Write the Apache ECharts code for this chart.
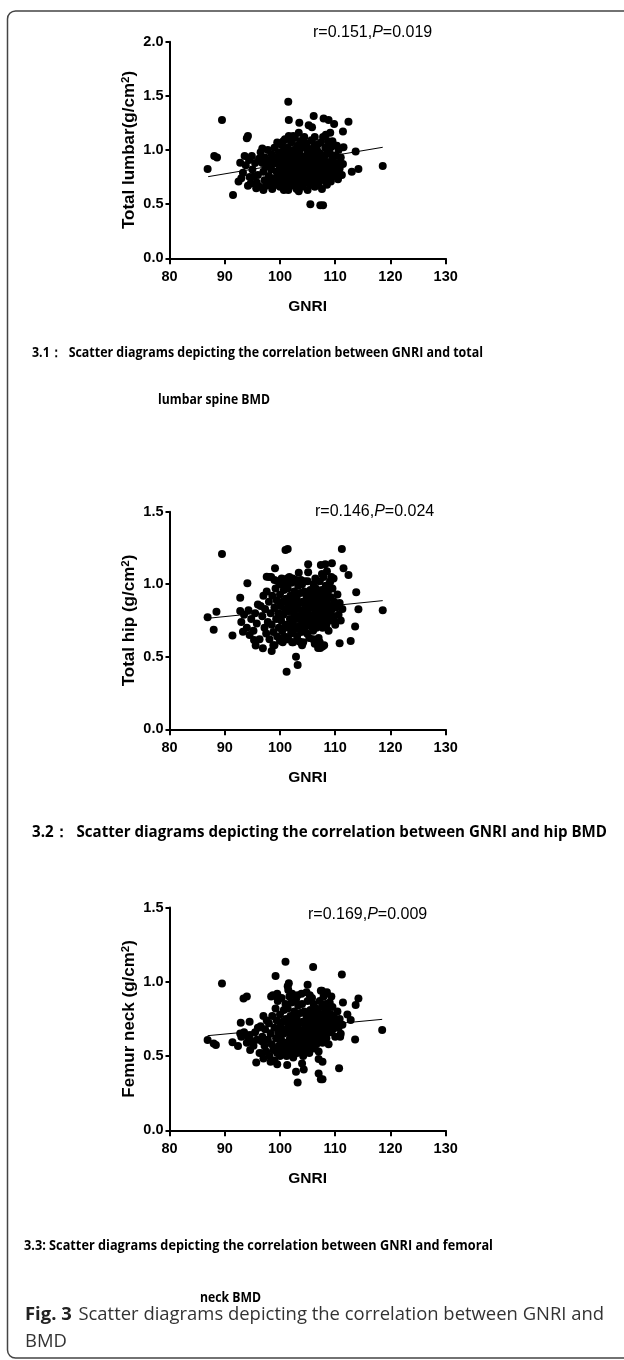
<!DOCTYPE html>
<html>
<head>
<meta charset="utf-8">
<script src="https://cdn.jsdelivr.net/npm/echarts@6/dist/echarts.min.js"></script>
<style>
html,body{margin:0;padding:0;background:#fff;}
#chart{width:624px;height:1360px;}
</style>
</head>
<body>
<div id="chart"></div>
<script>
// ---------------- DATA ----------------
const gnriTicks = [80, 90, 100, 110, 120, 130];
const lumbarTicks = [0, 0.5, 1.0, 1.5, 2.0];
const hipTicks = [0, 0.5, 1.0, 1.5];
const neckTicks = [0, 0.5, 1.0, 1.5];

const xName = 'GNRI';
const lumbarName = 'Total lumbar(g/cm';
const hipName = 'Total hip (g/cm';
const neckName = 'Femur neck (g/cm';

const lumbarStat = ['r=0.151,', 'P', '=0.019'];
const hipStat = ['r=0.146,', 'P', '=0.024'];
const neckStat = ['r=0.169,', 'P', '=0.009'];

const lumbarFit = [[87.0, 0.754], [118.6, 1.025]];
const hipFit = [[86.9, 0.765], [118.6, 0.887]];
const neckFit = [[86.9, 0.637], [118.5, 0.747]];

const lumbarPoints = [
[86.9,0.825],[88.1,0.945],[88.6,0.93],[89.5,1.277],[91.5,0.585],[92.5,0.708],[92.8,0.883],[93.3,0.79],[93.6,0.945],
[94.0,1.108],[94.2,1.13],[94.4,0.908],[94.9,0.945],[94.7,0.69],[95.2,0.754],[95.7,0.646],[97.0,0.63],[96.8,1.015],
[101.5,1.446],[101.6,1.277],[103.5,1.252],[106.1,1.314],[105.2,1.228],[105.8,1.21],[107.9,1.29],[108.8,1.277],
[109.8,1.24],[109.1,1.16],[111.4,1.17],[112.4,1.26],[111.5,1.025],[113.7,0.985],[114.2,0.825],[113.0,0.80],[110.9,0.77],
[118.6,0.852],[101.5,0.63],[103.4,0.62],[105.5,0.50],[107.3,0.49],[107.8,0.49],
[96.5,0.98],[96.8,0.88],[97.0,0.80],[97.2,0.72],[97.3,0.93],[97.5,0.67],[97.6,0.85],[97.8,1.00],[98.0,0.76],[98.1,0.90],
[98.3,0.70],[98.4,0.82],[98.5,0.96],[98.6,0.64],[98.8,0.87],[99.0,0.74],[99.0,1.02],[99.2,0.93],[99.3,0.68],[99.4,0.80],
[99.5,1.07],[99.6,0.88],[99.7,0.72],[99.8,0.98],[100.0,0.84],[100.0,0.66],[100.1,0.77],[100.2,1.05],[100.3,0.92],[100.4,0.70],
[100.5,0.81],[100.6,0.99],[100.7,0.63],[100.8,0.88],[100.9,1.10],[101.0,0.75],[101.0,0.95],[101.1,0.69],[101.2,0.84],[101.3,1.02],
[101.4,0.79],[101.5,0.91],[101.6,1.13],[101.7,0.66],[101.8,0.86],[101.9,0.97],[102.0,0.73],[102.0,1.07],[102.1,0.81],[102.2,0.93],
[102.3,0.68],[102.4,1.00],[102.5,0.77],[102.6,0.88],[102.7,1.11],[102.8,0.71],[102.9,0.95],[103.0,0.83],[103.0,0.64],[103.1,1.04],
[103.2,0.76],[103.3,0.90],[103.4,0.69],[103.5,0.98],[103.6,0.80],[103.7,1.08],[103.8,0.72],[103.9,0.87],[104.0,0.94],[104.0,0.66],
[104.1,1.02],[104.2,0.78],[104.3,0.85],[104.4,1.12],[104.5,0.70],[104.6,0.92],[104.7,0.82],[104.8,1.06],[104.9,0.74],[105.0,0.97],
[105.0,0.63],[105.1,0.88],[105.2,0.79],[105.3,1.01],[105.4,0.68],[105.5,0.93],[105.6,0.84],[105.7,1.09],[105.8,0.75],[105.9,0.99],
[106.0,0.70],[106.0,0.89],[106.1,0.81],[106.2,1.04],[106.3,0.66],[106.4,0.94],[106.5,0.77],[106.6,0.86],[106.7,1.00],[106.8,0.72],
[106.9,0.91],[107.0,0.68],[107.1,0.83],[107.2,0.97],[107.3,0.76],[107.4,1.07],[107.5,0.88],[107.6,0.64],[107.7,0.80],[107.8,1.12],
[107.9,0.93],[108.0,0.72],[108.1,0.85],[108.2,1.02],[108.3,0.78],[108.4,0.96],[108.5,0.68],[108.6,0.89],[108.7,1.08],[108.8,0.82],
[108.9,0.75],[109.0,0.98],[109.1,0.87],[109.2,0.71],[109.3,1.03],[109.4,0.80],[109.5,0.92],[109.6,0.76],[109.8,0.85],[110.0,0.95],
[110.1,0.79],[110.3,0.88],[110.5,0.73],[110.6,1.00],[110.8,0.83],[111.0,0.93],[111.2,0.77],[111.4,0.87],
[93.8,0.86],[94.5,0.75],[95.0,0.82],[95.5,0.88],[95.8,0.70],[96.0,0.77],[96.2,0.92],[96.3,0.66],[94.2,0.67],[93.0,0.74],
[99.8,1.06],[100.6,1.08],[102.4,1.13],[103.4,1.16],[104.2,1.10],[106.3,1.12],[106.8,1.05],[108.3,1.14],[109.5,1.08],[110.3,1.04]
];

const hipPoints = [
[86.9,0.772],[88.0,0.687],[88.5,0.811],[89.5,1.208],[91.4,0.646],[92.8,0.907],[92.8,0.816],[93.3,0.673],[94.1,1.006],
[95.3,0.616],[95.6,0.577],[96.9,0.558],[97.6,1.052],[98.5,0.54],[99.1,1.11],[101.0,1.236],[101.4,1.243],[101.2,0.397],
[102.9,0.50],[103.2,0.443],[103.6,0.604],[105.1,1.137],[105.1,1.082],[106.0,0.62],[106.3,0.59],[107.4,1.132],[108.2,1.137],
[109.4,1.144],[109.1,1.02],[109.7,1.04],[111.2,1.243],[111.5,1.11],[112.4,1.064],[113.8,0.944],[114.2,0.827],[113.6,0.708],
[112.8,0.609],[110.8,0.593],[109.7,0.754],[118.6,0.82],[107.0,0.58],[107.3,0.56],[108.0,0.58],
[96.5,0.85],[96.8,0.78],[97.0,0.92],[97.2,0.70],[97.3,0.83],[97.5,0.66],[97.6,0.95],[97.8,0.74],[98.0,0.88],[98.1,0.62],
[98.3,0.80],[98.4,1.05],[98.5,0.72],[98.6,0.92],[98.8,0.67],[99.0,0.84],[99.0,0.58],[99.2,0.97],[99.3,0.76],[99.4,0.89],
[99.5,0.64],[99.6,1.02],[99.7,0.80],[99.8,0.70],[100.0,0.93],[100.0,0.61],[100.1,0.85],[100.2,0.75],[100.3,1.04],[100.4,0.68],
[100.5,0.88],[100.6,0.79],[100.7,0.96],[100.8,0.64],[100.9,0.83],[101.0,1.00],[101.0,0.72],[101.1,0.90],[101.2,0.62],[101.3,0.81],
[101.4,0.97],[101.5,0.70],[101.6,0.86],[101.7,1.05],[101.8,0.76],[101.9,0.92],[102.0,0.66],[102.0,0.84],[102.1,1.01],[102.2,0.73],
[102.3,0.89],[102.4,0.60],[102.5,0.80],[102.6,0.95],[102.7,0.69],[102.8,0.86],[102.9,1.03],[103.0,0.76],[103.0,0.91],[103.1,0.64],
[103.2,0.83],[103.3,0.99],[103.4,0.71],[103.5,0.87],[103.6,0.78],[103.7,0.94],[103.8,0.67],[103.9,0.82],[104.0,1.00],[104.0,0.74],
[104.1,0.88],[104.2,0.60],[104.3,0.80],[104.4,0.95],[104.5,0.70],[104.6,0.85],[104.7,0.77],[104.8,0.92],[104.9,0.66],[105.0,0.83],
[105.0,1.02],[105.1,0.73],[105.2,0.89],[105.3,0.63],[105.4,0.79],[105.5,0.96],[105.6,0.71],[105.7,0.86],[105.8,0.76],[105.9,0.93],
[106.0,0.68],[106.0,0.84],[106.1,1.00],[106.2,0.74],[106.3,0.90],[106.4,0.80],[106.5,0.97],[106.6,0.70],[106.7,0.86],[106.8,0.77],
[106.9,0.93],[107.0,0.63],[107.1,0.83],[107.2,1.02],[107.3,0.73],[107.4,0.89],[107.5,0.80],[107.6,0.96],[107.7,0.70],[107.8,0.86],
[107.9,1.05],[108.0,0.76],[108.1,0.92],[108.2,0.83],[108.3,0.99],[108.4,0.72],[108.5,0.88],[108.6,0.79],[108.7,0.95],[108.8,0.68],
[108.9,0.85],[109.0,1.01],[109.1,0.75],[109.2,0.91],[109.3,0.82],[109.5,0.97],[109.6,0.78],[109.8,0.88],[110.0,0.72],[110.2,0.84],
[110.4,0.93],[110.6,0.79],[110.8,0.87],[111.0,0.75],[111.3,0.83],
[93.0,0.74],[93.5,0.79],[94.0,0.70],[94.3,0.82],[94.8,0.76],[95.2,0.68],[95.5,0.80],[95.8,0.73],[96.0,0.86],[96.3,0.62],[94.5,0.65],
[98.0,1.05],[99.0,1.03],[100.2,1.00],[101.3,1.04],[102.3,1.04],[103.4,1.08],[103.8,1.03],[104.5,1.02],[106.4,1.04],[107.6,1.07],
[108.5,1.09],[109.3,1.05],
[98.8,0.58],[100.5,0.60],[101.5,0.62],[102.2,0.60],[104.0,0.58],[106.9,0.56],[107.2,0.60],[107.7,0.57]
];

const neckPoints = [
[86.9,0.608],[88.0,0.585],[88.4,0.574],[89.5,0.989],[91.4,0.592],[92.4,0.567],[92.8,0.652],[92.9,0.724],[93.4,0.888],
[94.0,0.90],[94.5,0.731],[94.6,0.54],[95.7,0.457],[96.7,0.518],[97.0,0.484],[98.3,0.462],[99.2,1.038],[99.2,0.906],
[99.5,0.444],[101.0,1.135],[101.4,0.97],[101.5,0.945],[101.3,0.439],[102.9,0.395],[103.2,0.321],[104.0,0.45],[104.3,0.41],
[105.0,0.98],[106.0,1.10],[107.0,0.48],[107.0,0.383],[107.4,0.343],[107.7,0.343],[107.7,0.462],[107.6,0.94],[108.5,0.93],
[109.3,0.90],[110.7,0.417],[111.2,1.049],[111.4,0.861],[112.2,0.78],[112.8,0.742],[113.7,0.843],[114.2,0.888],[113.6,0.612],
[110.9,0.63],[118.5,0.675],
[96.5,0.70],[96.8,0.63],[97.0,0.77],[97.2,0.57],[97.3,0.68],[97.5,0.53],[97.6,0.74],[97.8,0.61],[98.0,0.72],[98.1,0.50],
[98.3,0.65],[98.4,0.90],[98.5,0.58],[98.6,0.77],[98.8,0.54],[99.0,0.69],[99.0,0.47],[99.2,0.82],[99.3,0.62],[99.4,0.74],
[99.5,0.52],[99.6,0.87],[99.7,0.66],[99.8,0.57],[100.0,0.78],[100.0,0.50],[100.1,0.70],[100.2,0.61],[100.3,0.89],[100.4,0.55],
[100.5,0.73],[100.6,0.65],[100.7,0.81],[100.8,0.52],[100.9,0.68],[101.0,0.85],[101.0,0.59],[101.1,0.75],[101.2,0.50],[101.3,0.66],
[101.4,0.82],[101.5,0.57],[101.6,0.71],[101.7,0.90],[101.8,0.62],[101.9,0.77],[102.0,0.53],[102.0,0.69],[102.1,0.86],[102.2,0.60],
[102.3,0.74],[102.4,0.49],[102.5,0.65],[102.6,0.80],[102.7,0.56],[102.8,0.71],[102.9,0.88],[103.0,0.62],[103.0,0.76],[103.1,0.52],
[103.2,0.68],[103.3,0.84],[103.4,0.58],[103.5,0.72],[103.6,0.64],[103.7,0.79],[103.8,0.55],[103.9,0.67],[104.0,0.85],[104.0,0.61],
[104.1,0.73],[104.2,0.50],[104.3,0.66],[104.4,0.80],[104.5,0.57],[104.6,0.70],[104.7,0.63],[104.8,0.77],[104.9,0.54],[105.0,0.68],
[105.0,0.87],[105.1,0.60],[105.2,0.74],[105.3,0.52],[105.4,0.65],[105.5,0.81],[105.6,0.58],[105.7,0.71],[105.8,0.63],[105.9,0.78],
[106.0,0.56],[106.0,0.69],[106.1,0.85],[106.2,0.61],[106.3,0.75],[106.4,0.66],[106.5,0.82],[106.6,0.58],[106.7,0.72],[106.8,0.64],
[106.9,0.79],[107.0,0.53],[107.1,0.70],[107.2,0.87],[107.3,0.62],[107.4,0.76],[107.5,0.68],[107.6,0.83],[107.7,0.59],[107.8,0.74],
[107.9,0.90],[108.0,0.65],[108.1,0.79],[108.2,0.71],[108.3,0.85],[108.4,0.62],[108.5,0.76],[108.6,0.69],[108.7,0.82],[108.8,0.58],
[108.9,0.73],[109.0,0.86],[109.1,0.66],[109.2,0.78],[109.3,0.71],[109.5,0.83],[109.6,0.68],[109.8,0.76],[110.0,0.63],[110.2,0.72],
[110.4,0.80],[110.6,0.69],[110.8,0.75],[111.0,0.65],[111.3,0.71],
[93.0,0.63],[93.5,0.66],[94.0,0.59],[94.3,0.62],[94.8,0.60],[95.2,0.57],[95.5,0.66],[95.8,0.61],[96.0,0.69],[96.3,0.52],[94.5,0.64],[96.7,0.60],
[98.7,0.91],[99.5,0.92],[101.6,0.99],[102.2,0.92],[103.2,0.91],[103.9,0.92],[104.8,0.93],[105.4,0.91],[105.8,0.89],[107.4,0.94],[108.2,0.92],
[99.8,0.53],[100.8,0.55],[101.7,0.52],[102.4,0.54],[104.1,0.54],[104.6,0.56],[106.2,0.55]
];

const captions = [
  '3.1\uFF1A  Scatter diagrams depicting the correlation between GNRI and total',
  'lumbar spine BMD',
  '3.2\uFF1A  Scatter diagrams depicting the correlation between GNRI and hip BMD',
  '3.3: Scatter diagrams depicting the correlation between GNRI and femoral',
  'neck BMD'
];
const figLabel = 'Fig. 3';
const figCaption = ['Scatter diagrams depicting the correlation between GNRI and', 'BMD'];

// ---------------- LAYOUT / STYLE ----------------
const AX_FONT = '"Liberation Sans", Arial, sans-serif';
const CAP_FONT = '"Open Sans", "Noto Sans", sans-serif';
const grids = [
  {left: 169.5, top: 41.7, width: 276.2, height: 216.6},
  {left: 169.5, top: 511.7, width: 276.2, height: 217.6},
  {left: 169.5, top: 907.5, width: 276.2, height: 222.8}
];

const mctx = document.createElement('canvas').getContext('2d');
function measure(text, weight, size, family) {
  mctx.font = weight + ' ' + size + 'px ' + family;
  return mctx.measureText(text).width;
}

function makeX(i) {
  return {
    gridIndex: i, type: 'value',
    min: gnriTicks[0], max: gnriTicks[gnriTicks.length - 1], interval: gnriTicks[1] - gnriTicks[0],
    axisLine: {show: true, onZero: false, lineStyle: {color: '#000', width: 2}},
    axisTick: {show: true, length: 6, lineStyle: {color: '#000', width: 2}},
    axisLabel: {color: '#000', fontFamily: AX_FONT, fontWeight: 'bold', fontSize: 14.5, margin: 11},
    splitLine: {show: false},
    name: xName, nameLocation: 'middle', nameGap: 40,
    nameTextStyle: {color: '#000', fontFamily: AX_FONT, fontWeight: 'bold', fontSize: 15.5}
  };
}
function makeY(i, ticks, nm) {
  return {
    gridIndex: i, type: 'value',
    min: ticks[0], max: ticks[ticks.length - 1], interval: ticks[1] - ticks[0],
    axisLine: {show: true, onZero: false, lineStyle: {color: '#000', width: 2}},
    axisTick: {show: true, length: 4, lineStyle: {color: '#000', width: 2}},
    axisLabel: {color: '#000', fontFamily: AX_FONT, fontWeight: 'bold', fontSize: 14.5, margin: 6,
      formatter: v => v.toFixed(1)},
    splitLine: {show: false},
    name: '{n|' + nm + '}{s|2}{n|)}', nameLocation: 'middle', nameGap: 31, nameRotate: 90,
    nameTextStyle: {
      color: '#000', fontFamily: AX_FONT, fontWeight: 'bold', fontSize: 17,
      rich: {
        n: {fontFamily: AX_FONT, fontWeight: 'bold', fontSize: 17, color: '#000'},
        s: {fontFamily: AX_FONT, fontWeight: 'bold', fontSize: 11.5, color: '#000', padding: [0, 0, 7, 0]}
      }
    }
  };
}
function scatter(i, pts) {
  return {type: 'scatter', xAxisIndex: i, yAxisIndex: i, data: pts, symbolSize: 8,
    itemStyle: {color: '#000', opacity: 1}, silent: true, animation: false, z: 3};
}
function fit(i, pts) {
  return {type: 'line', xAxisIndex: i, yAxisIndex: i, data: pts, symbol: 'none',
    lineStyle: {color: '#000', width: 1}, silent: true, animation: false, z: 2};
}
function stat(parts, x, y) {
  return {type: 'text', x: x, y: y, silent: true,
    style: {text: '{a|' + parts[0] + '}{i|' + parts[1] + '}{a|' + parts[2] + '}',
      verticalAlign: 'middle', align: 'left',
      rich: {
        a: {fontFamily: AX_FONT, fontSize: 16, fill: '#000', color: '#000'},
        i: {fontFamily: AX_FONT, fontSize: 16, fontStyle: 'italic', fill: '#000', color: '#000'}
      }}};
}
// caption text: given font size, horizontally condensed to the measured width of the original
function cap(text, x, y, size, target) {
  const w = measure(text, 'bold', size, CAP_FONT);
  return {type: 'text', x: x, y: y, scaleX: target / w, silent: true,
    style: {text: text, fontFamily: CAP_FONT, fontWeight: 'bold', fontSize: size, fill: '#000',
      verticalAlign: 'middle', align: 'left'}};
}

const figFs = 18.5;
const figW = measure(figLabel + '  ', 'bold', figFs, CAP_FONT) + measure(figCaption[0], 'normal', figFs, CAP_FONT);
const figScale = 582 / figW;

const chart = echarts.init(document.getElementById('chart'), null, {renderer: 'canvas'});
chart.setOption({
  animation: false,
  backgroundColor: '#fff',
  grid: grids.map(g => Object.assign({containLabel: false}, g)),
  xAxis: [makeX(0), makeX(1), makeX(2)],
  yAxis: [makeY(0, lumbarTicks, lumbarName), makeY(1, hipTicks, hipName), makeY(2, neckTicks, neckName)],
  series: [
    fit(0, lumbarFit), scatter(0, lumbarPoints),
    fit(1, hipFit), scatter(1, hipPoints),
    fit(2, neckFit), scatter(2, neckPoints)
  ],
  graphic: [
    {type: 'rect', silent: true, shape: {x: 7.5, y: 11, width: 700, height: 1347, r: 8},
      style: {fill: 'none', stroke: '#444', lineWidth: 1.5}},
    stat(lumbarStat, 313, 33),
    stat(hipStat, 315, 512),
    stat(neckStat, 308, 915),
    cap(captions[0], 32, 353, 14, 451),
    cap(captions[1], 158, 400, 14, 112),
    cap(captions[2], 32, 832, 16, 575),
    cap(captions[3], 24, 1246, 14, 469),
    cap(captions[4], 200, 1298, 14, 61),
    {type: 'text', x: 25, y: 1315, scaleX: figScale, silent: true,
      style: {text: '{b|' + figLabel + '}  {l|' + figCaption[0] + '}', verticalAlign: 'middle', align: 'left',
        rich: {
          b: {fontFamily: CAP_FONT, fontWeight: 'bold', fontSize: figFs, fill: '#222', color: '#222'},
          l: {fontFamily: CAP_FONT, fontWeight: 'normal', fontSize: figFs, fill: '#333', color: '#333'}
        }}},
    {type: 'text', x: 25, y: 1342, scaleX: figScale, silent: true,
      style: {text: figCaption[1], fontFamily: CAP_FONT, fontWeight: 'normal', fontSize: figFs, fill: '#333',
        verticalAlign: 'middle', align: 'left'}}
  ]
});
</script>
</body>
</html>
